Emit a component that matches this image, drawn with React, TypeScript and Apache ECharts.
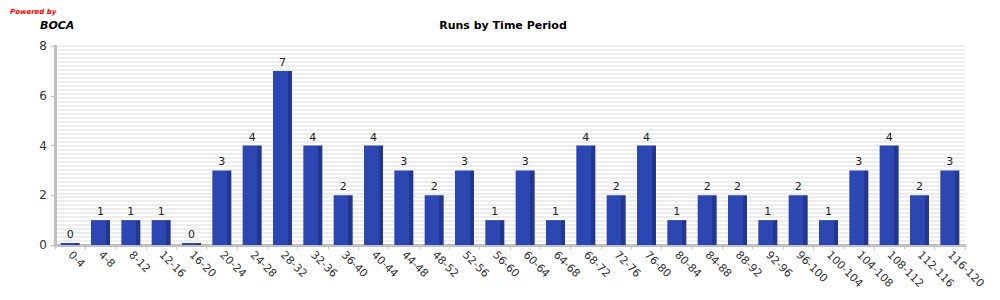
import React, { useEffect, useRef } from "react";
import * as echarts from "echarts";

const categories = ["0-4","4-8","8-12","12-16","16-20","20-24","24-28","28-32","32-36","36-40","40-44","44-48","48-52","52-56","56-60","60-64","64-68","68-72","72-76","76-80","80-84","84-88","88-92","92-96","96-100","100-104","104-108","108-112","112-116","116-120"];
const runs = [0,1,1,1,0,3,4,7,4,2,4,3,2,3,1,3,1,4,2,4,1,2,2,1,2,1,3,4,2,3];
const yTicks = [0, 2, 4, 6, 8];

export default function App() {
  const ref = useRef<HTMLDivElement>(null);
  useEffect(() => {
    const chart = echarts.init(ref.current!, null, { renderer: "svg" });
    chart.setOption({
      animation: false,
      backgroundColor: "#ffffff",
      title: {
        text: "Runs by Time Period",
        left: 498,
        textAlign: "center",
        top: 15,
        textStyle: { fontFamily: "DejaVu Sans", fontSize: 11, fontWeight: "bold", color: "#000" },
      },
      graphic: [
        { type: "text", left: 10, top: 8, style: { text: "Powered by", fill: "#ff0000", font: "italic bold 7px 'DejaVu Sans'" } },
        { type: "text", left: 40, top: 20, style: { text: "BOCA", fill: "#000", font: "italic bold 11px 'DejaVu Sans'" } },
      ],
      grid: { left: 55, right: 35, top: 46, bottom: 55 },
      xAxis: {
        type: "category",
        data: categories,
        axisLine: { lineStyle: { color: "#c0c0c0", width: 3 } },
        axisTick: { show: true, length: 4, lineStyle: { color: "#c0c0c0", width: 1 } },
        axisLabel: { rotate: -45, fontFamily: "DejaVu Sans", fontSize: 11, color: "#333", margin: 8, interval: 0 },
      },
      yAxis: [
        {
          type: "value",
          min: 0,
          max: yTicks[yTicks.length - 1],
          interval: 2,
          axisLine: { show: true, lineStyle: { color: "#c0c0c0", width: 3 } },
          axisTick: { show: true, length: 4, lineStyle: { color: "#c0c0c0" } },
          axisLabel: { fontFamily: "DejaVu Sans", fontSize: 12, color: "#333", margin: 8 },
          splitLine: { show: false },
        },
        {
          type: "value",
          min: 0,
          max: 8,
          interval: 0.16,
          position: "right",
          axisLine: { show: false },
          axisTick: { show: false },
          axisLabel: { show: false },
          splitLine: { show: true, lineStyle: { color: "#ededed", width: 2 } },
        },
      ],
      series: [
        {
          type: "bar",
          data: runs,
          barWidth: 19,
          barMinHeight: 2,
          z: 3,
          itemStyle: {
            color: new echarts.graphic.LinearGradient(0, 0, 1, 0, [
              { offset: 0, color: "#2c46b2" },
              { offset: 0.77, color: "#2c46b2" },
              { offset: 0.77, color: "#213791" },
              { offset: 1, color: "#213791" },
            ]),
          },
          label: { show: true, position: "top", distance: 3, fontFamily: "DejaVu Sans", fontSize: 11, color: "#222" },
        },
      ],
    });
    return () => chart.dispose();
  }, []);
  return <div ref={ref} style={{ position: "fixed", left: 0, top: 0, width: 1000, height: 300 }} />;
}
